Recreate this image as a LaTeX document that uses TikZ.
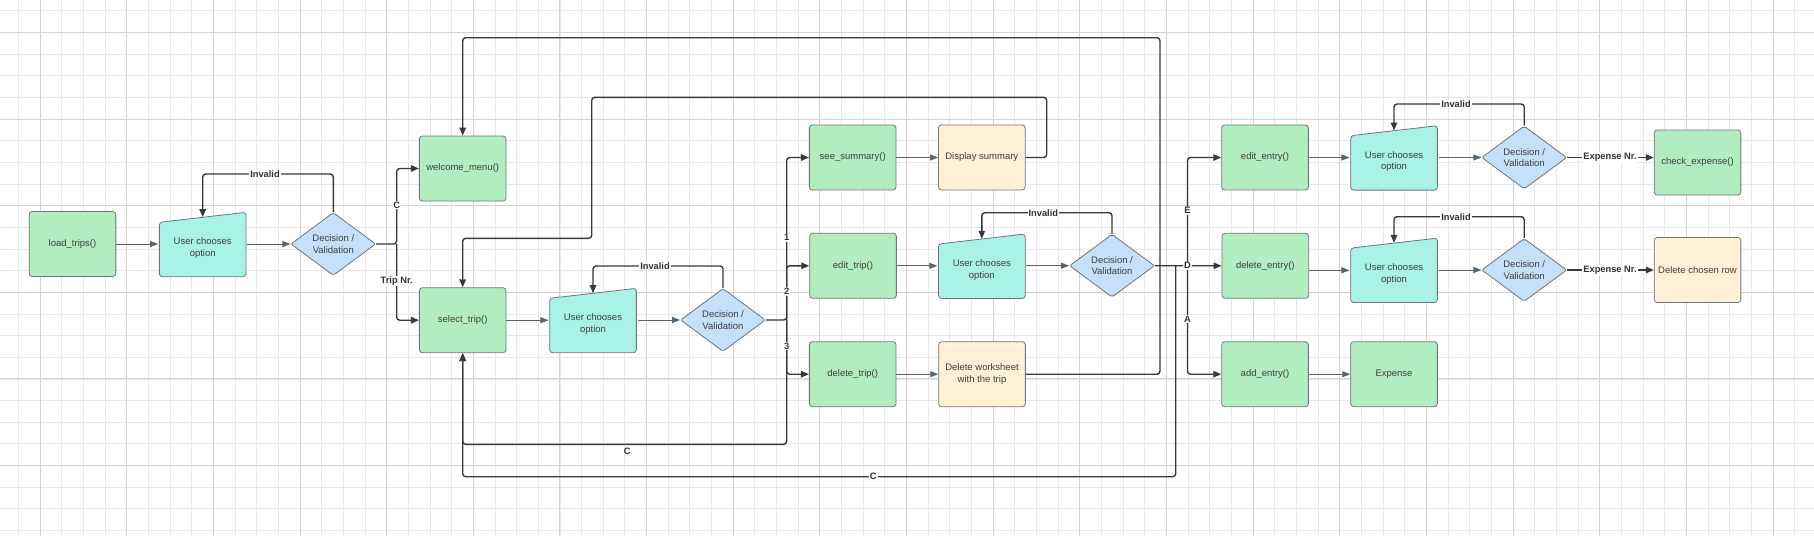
\documentclass[tikz,border=0pt]{standalone}
\usepackage{fontspec}
\setmainfont{Liberation Sans}
\usetikzlibrary{shapes.geometric,arrows.meta,calc}
\definecolor{gfill}{RGB}{178,236,193}
\definecolor{bfill}{RGB}{255,240,214}
\definecolor{cfill}{RGB}{168,242,230}
\definecolor{dfill}{RGB}{197,224,250}
\definecolor{bord}{RGB}{112,117,122}
\definecolor{txt}{RGB}{62,62,62}
\definecolor{labtxt}{RGB}{50,50,50}
\definecolor{thinln}{RGB}{92,98,108}
\definecolor{thickln}{RGB}{52,57,66}
\definecolor{gridmin}{RGB}{232,232,232}
\definecolor{gridmaj}{RGB}{210,210,210}
\begin{document}
\begin{tikzpicture}[x=1pt,y=-1pt,
  every node/.style={font=\fontsize{9.5}{11.7}\selectfont, text=txt},
  procbox/.style={draw=bord, line width=0.8pt, rounded corners=3pt, minimum width=86.7pt, minimum height=65pt, inner sep=0pt, align=center, fill=gfill},
  notebox/.style={procbox, fill=bfill},
  decbox/.style={diamond, draw=bord, fill=dfill, line width=0.8pt, minimum width=85pt, minimum height=63pt, inner sep=0pt, aspect=1.35, align=center, rounded corners=2pt},
  inbox/.style={minimum width=88.7pt, minimum height=66.4pt, inner sep=0pt, align=center,
    label={[align=center, yshift=-3.5pt]center:User chooses\\option},
    path picture={\path[fill=cfill, draw=bord, line width=0.8pt, rounded corners=3pt]
      ([shift={(1pt,1pt)}]path picture bounding box.south west) --
      ([shift={(-1pt,1pt)}]path picture bounding box.south east) --
      ([shift={(-1pt,-1pt)}]path picture bounding box.north east) --
      ([shift={(1pt,-11pt)}]path picture bounding box.north west) -- cycle;}},
  ar/.style={-{Triangle[length=8pt,width=6pt]}, draw=thinln, line width=0.9pt},
  rt/.style={-{Triangle[length=8pt,width=6.5pt]}, draw=thickln, line width=1.4pt, rounded corners=3pt},
  lab/.style={font=\fontsize{9.3}{11}\selectfont\bfseries, text=labtxt, fill=white, inner sep=1pt}
]
\useasboundingbox (0,0) rectangle (1814,536);
\fill[white] (0,0) rectangle (1814,536);
% grid
\foreach \k in {-1,...,83} {
  \pgfmathsetmacro\xx{40+21.6625*\k}
  \draw[gridmin, line width=0.8pt] (\xx,0) -- (\xx,536);
}
\foreach \k in {-1,...,24} {
  \pgfmathsetmacro\yy{32.3+21.6625*\k}
  \draw[gridmin, line width=0.8pt] (0,\yy) -- (1814,\yy);
}
\foreach \k in {0,...,20} {
  \pgfmathsetmacro\xx{40+86.65*\k}
  \draw[gridmaj, line width=0.9pt] (\xx,0) -- (\xx,536);
}
\foreach \k in {0,...,6} {
  \pgfmathsetmacro\yy{32.3+86.65*\k}
  \draw[gridmaj, line width=0.9pt] (0,\yy) -- (1814,\yy);
}

% nodes
\node[procbox] (load) at (72.5,244) {load\_trips()};
\node[inbox] (u1) at (202.7,244.5) {};
\node[decbox] (d1) at (333.3,244) {Decision /\\Validation};
\node[procbox] (welcome) at (462.7,168.5) {welcome\_menu()};
\node[procbox] (select) at (462.7,320.2) {select\_trip()};
\node[inbox] (u2) at (593,320.5) {};
\node[decbox] (d2) at (723,320) {Decision /\\Validation};
\node[procbox] (see) at (852.7,157.5) {see\_summary()};
\node[notebox] (disp) at (981.8,157.5) {Display summary};
\node[procbox] (edittrip) at (853,265.8) {edit\_trip()};
\node[inbox] (u3) at (981.8,266.2) {};
\node[decbox] (d3) at (1112,265.7) {Decision /\\Validation};
\node[procbox] (deltrip) at (852.7,374.2) {delete\_trip()};
\node[notebox] (delws) at (982,374.2) {Delete worksheet\\with the trip};
\node[procbox] (editentry) at (1265,157.5) {edit\_entry()};
\node[inbox] (u4) at (1394,157.9) {};
\node[decbox] (d4) at (1524.2,157.5) {Decision /\\Validation};
\node[procbox] (check) at (1697.5,162.5) {check\_expense()};
\node[procbox] (delentry) at (1265.3,265.8) {delete\_entry()};
\node[inbox] (u5) at (1394,270.3) {};
\node[decbox] (d5) at (1524.2,270) {Decision /\\Validation};
\node[notebox] (delrow) at (1697.5,270) {Delete chosen row};
\node[procbox] (add) at (1265,374.2) {add\_entry()};
\node[procbox] (expense) at (1394,374.2) {Expense};

% junction coordinates
\coordinate (j1) at (396.7,244);
\coordinate (j2) at (786.7,320);
\coordinate (j3) at (1187.5,265.7);
\coordinate (j4) at (1175.7,265.7);
\coordinate (c1) at (786.7,444.3);
\coordinate (c2) at (1175.7,476.7);

% simple arrows
\draw[ar] (load.east) -- (load.east -| u1.west);
\draw[ar] (u1.east |- d1.west) -- (d1.west);
\draw[ar] (select.east) -- (select.east -| u2.west);
\draw[ar] (u2.east |- d2.west) -- (d2.west);
\draw[ar] (see.east) -- (disp.west);
\draw[ar] (edittrip.east) -- (edittrip.east -| u3.west);
\draw[ar] (u3.east |- d3.west) -- (d3.west);
\draw[ar] (deltrip.east) -- (delws.west);
\draw[ar] (editentry.east) -- (editentry.east -| u4.west);
\draw[ar] (u4.east |- d4.west) -- (d4.west);
\draw[ar] (delentry.east |- u5.west) -- (u5.west);
\draw[ar] (u5.east |- d5.west) -- (d5.west);
\draw[ar] (add.east) -- (expense.west);

% invalid loops
\draw[rt] (d1.north) -- (d1.north |- 0,174) -| ([yshift=-6pt]u1.north);
\draw[rt] (d2.north) -- (d2.north |- 0,266) -| ([yshift=-6pt]u2.north);
\draw[rt] (d3.north) -- (d3.north |- 0,212.7) -| ([yshift=-6pt]u3.north);
\draw[rt] (d4.north) -- (d4.north |- 0,104) -| ([yshift=-6pt]u4.north);
\draw[rt] (d5.north) -- (d5.north |- 0,216.7) -| ([yshift=-6pt]u5.north);

% branches
\draw[rt] (d1.east) -- (j1) |- (welcome.west);
\draw[rt] (j1) |- (select.west);
\draw[rt] (d2.east) -- (j2) |- (see.west);
\draw[rt] (j2) |- (edittrip.west);
\draw[rt] (j2) |- (deltrip.west);
\draw[rt] (j2) -- (c1) -| (select.south);
\draw[rt] (disp.east) -| (1046.7,97.3) -| (591.7,238.3) -| (select.north);
\draw[rt] (delws.east) -| (1160,37.7) -| (welcome.north);
\draw[rt] (d3.east) -- (j3) -- (delentry.west);
\draw[rt] (j3) |- (editentry.west);
\draw[rt] (j3) |- (add.west);
\draw[rt] (j4) -- (c2) -| (select.south);
\draw[rt] (d4.east) -- (d4.east -| check.west);
\draw[rt] (d5.east) -- (delrow.west);

% labels
\node[lab] at (265,174) {Invalid};
\node[lab] at (655,266) {Invalid};
\node[lab] at (1043.3,212.7) {Invalid};
\node[lab] at (1456,104) {Invalid};
\node[lab] at (1456,216.7) {Invalid};
\node[lab] at (396.7,205) {C};
\node[lab] at (396.7,281) {Trip Nr.};
\node[lab] at (786.7,237.7) {1};
\node[lab] at (786.7,291.7) {2};
\node[lab] at (786.7,346) {3};
\node[lab, fill=none] at (627.3,451.7) {C};
\node[lab] at (873.3,476.7) {C};
\node[lab] at (1187.5,210.7) {E};
\node[lab] at (1187.5,265.7) {D};
\node[lab] at (1187.5,319) {A};
\node[lab] at (1610,157.5) {Expense Nr.};
\node[lab] at (1610,270) {Expense Nr.};
\end{tikzpicture}
\end{document}
